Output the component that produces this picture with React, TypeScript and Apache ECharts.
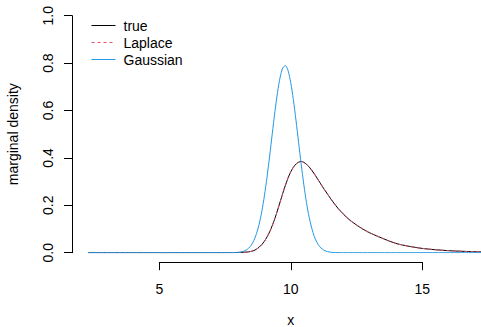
import React, { useEffect, useRef } from "react";
import * as echarts from "echarts";

const trueX = [2.3, 7.5, 8.0, 8.2, 8.4, 8.6, 8.8, 9.0, 9.2, 9.4, 9.6, 9.8, 10.0, 10.2, 10.4, 10.6, 10.8, 11.0, 11.2, 11.4, 11.6, 11.8, 12.0, 12.25, 12.5, 12.75, 13.0, 13.5, 14.0, 14.5, 15.0, 15.5, 16.0, 16.5, 17.0, 17.55];
const trueY = [0, 0.0001, 0.0008, 0.0018, 0.0035, 0.009, 0.023, 0.048, 0.088, 0.145, 0.215, 0.285, 0.341, 0.374, 0.385, 0.373, 0.348, 0.315, 0.28, 0.247, 0.215, 0.187, 0.163, 0.137, 0.117, 0.099, 0.084, 0.06, 0.039, 0.027, 0.018, 0.0125, 0.0085, 0.006, 0.004, 0.0026];
const laplaceX = trueX;
const laplaceY = [0, 0.0001, 0.0008, 0.0018, 0.0035, 0.009, 0.023, 0.048, 0.088, 0.145, 0.215, 0.285, 0.341, 0.374, 0.385, 0.373, 0.348, 0.315, 0.28, 0.247, 0.215, 0.187, 0.163, 0.137, 0.117, 0.099, 0.084, 0.06, 0.039, 0.027, 0.018, 0.0125, 0.0085, 0.006, 0.004, 0.0026];
const gaussX = [2.3, 7.8, 8.0, 8.1, 8.2, 8.3, 8.4, 8.5, 8.6, 8.7, 8.8, 8.9, 9.0, 9.1, 9.2, 9.3, 9.4, 9.5, 9.6, 9.7, 9.8, 9.9, 10.0, 10.1, 10.2, 10.3, 10.4, 10.5, 10.6, 10.7, 10.8, 10.9, 11.0, 11.1, 11.2, 11.3, 11.4, 11.5, 11.6, 11.8, 12.0, 17.55];
const gaussY = [0, 0.0004, 0.0016, 0.0031, 0.0059, 0.0108, 0.0189, 0.0318, 0.0515, 0.0803, 0.12, 0.173, 0.24, 0.319, 0.408, 0.503, 0.595, 0.677, 0.741, 0.78, 0.789, 0.768, 0.718, 0.646, 0.559, 0.465, 0.372, 0.286, 0.211, 0.15, 0.103, 0.0675, 0.0426, 0.0259, 0.0152, 0.0085, 0.0046, 0.0024, 0.0012, 0.0003, 0, 0];

const xTicks = [5, 10, 15];
const yTicks = [0, 0.2, 0.4, 0.6, 0.8, 1.0];

const FONT = "Liberation Sans";
const pairs = (xs: number[], ys: number[]) => xs.map((x, i) => [x, ys[i]]);

export default function App() {
  const ref = useRef<HTMLDivElement>(null);
  useEffect(() => {
    if (!ref.current) return;
    const chart = echarts.init(ref.current, null, { renderer: "svg" });
    chart.setOption({
      animation: false,
      backgroundColor: "#ffffff",
      textStyle: { fontFamily: FONT },
      grid: [
        { left: 72, right: 0, top: 15.7, bottom: 74.3, containLabel: false, outerBoundsMode: "none" },
        { left: 159.3, right: 58.7, top: 15.7, bottom: 74.3, containLabel: false, outerBoundsMode: "none" },
      ],
      legend: {
        data: ["true", "Laplace", "Gaussian"],
        orient: "vertical",
        left: 86,
        top: 13.5,
        itemWidth: 24,
        itemHeight: 14,
        itemGap: 3,
        itemStyle: { opacity: 0 },
        lineStyle: { width: 1 },
        textStyle: { fontSize: 14, fontFamily: FONT, color: "#000", padding: [0, 0, 0, 3] },
      },
      xAxis: [
        {
          type: "value",
          gridIndex: 0,
          min: 1.69,
          max: 17.23,
          show: false,
        },
        {
          type: "value",
          gridIndex: 1,
          min: xTicks[0],
          max: xTicks[xTicks.length - 1],
          interval: 5,
          offset: 9.5,
          name: "x",
          nameLocation: "middle",
          nameGap: 51,
          nameTextStyle: { fontSize: 14, fontFamily: FONT, color: "#000" },
          axisLine: { show: true, onZero: false, lineStyle: { color: "#000", width: 1 } },
          axisTick: { show: true, inside: false, length: 8, lineStyle: { color: "#000" } },
          axisLabel: { fontSize: 14, fontFamily: FONT, color: "#000", margin: 20 },
          splitLine: { show: false },
        },
      ],
      yAxis: [
        {
          type: "value",
          gridIndex: 0,
          min: yTicks[0],
          max: yTicks[yTicks.length - 1],
          interval: 0.2,
          name: "marginal density",
          nameLocation: "middle",
          nameRotate: 90,
          nameGap: 52,
          nameTextStyle: { fontSize: 14, fontFamily: FONT, color: "#000" },
          axisLine: { show: true, onZero: false, lineStyle: { color: "#000", width: 1 } },
          axisTick: { show: true, inside: false, length: 8, lineStyle: { color: "#000" } },
          axisLabel: {
            fontSize: 14,
            fontFamily: FONT,
            color: "#000",
            rotate: 90,
            margin: 17,
            formatter: (v: number) => v.toFixed(1),
          },
          splitLine: { show: false },
        },
        { type: "value", gridIndex: 1, show: false, min: 0, max: 1 },
      ],
      series: [
        {
          name: "true",
          type: "line",
          xAxisIndex: 0,
          yAxisIndex: 0,
          data: pairs(trueX, trueY),
          symbol: "none",
          smooth: 0.3,
          lineStyle: { color: "#000000", width: 1 },
          itemStyle: { color: "#000000" },
        },
        {
          name: "Laplace",
          type: "line",
          xAxisIndex: 0,
          yAxisIndex: 0,
          data: pairs(laplaceX, laplaceY),
          symbol: "none",
          smooth: 0.3,
          lineStyle: { color: "#DF536B", width: 1, type: [3, 3] },
          itemStyle: { color: "#DF536B" },
        },
        {
          name: "Gaussian",
          type: "line",
          xAxisIndex: 0,
          yAxisIndex: 0,
          data: pairs(gaussX, gaussY),
          symbol: "none",
          smooth: 0.3,
          lineStyle: { color: "#2297E6", width: 1 },
          itemStyle: { color: "#2297E6" },
        },
      ],
    });
    return () => chart.dispose();
  }, []);
  return <div ref={ref} style={{ width: 481, height: 327, position: "absolute", left: 0, top: 0 }} />;
}
